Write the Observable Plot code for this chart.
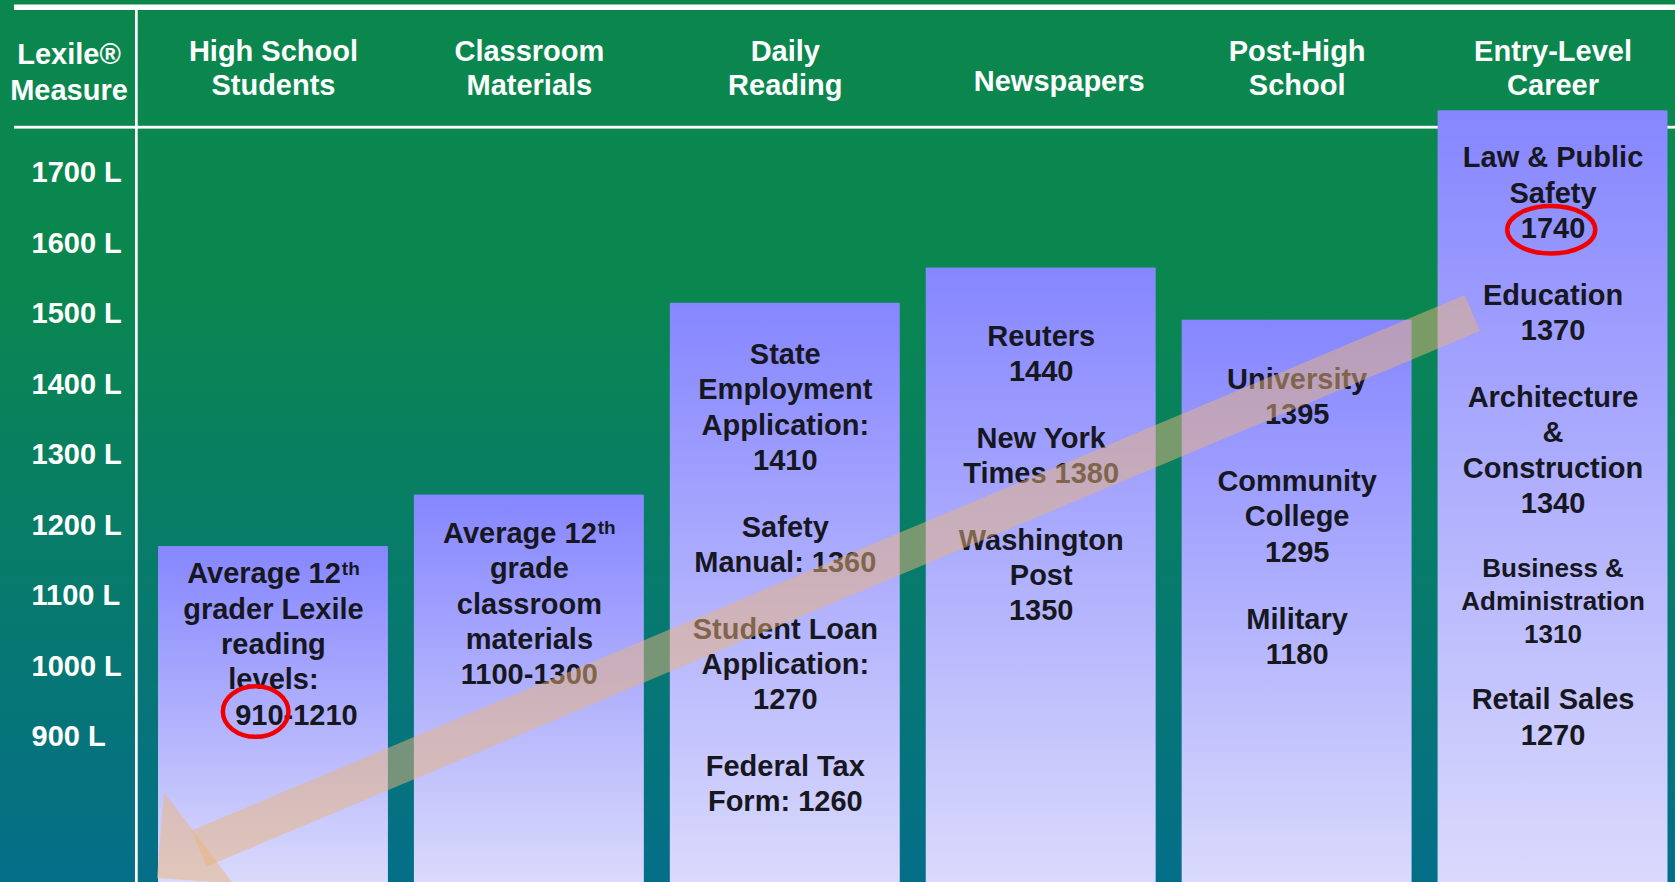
<!DOCTYPE html>
<html>
<head>
<meta charset="utf-8">
<script src="https://cdn.jsdelivr.net/npm/d3@7"></script>
<script src="https://cdn.jsdelivr.net/npm/@observablehq/plot@0.6"></script>
<style>
html, body { margin: 0; padding: 0; background: #0b874e; overflow: hidden; }
#chart svg { display: block; }
</style>
</head>
<body>
<div id="chart"></div>
<script>
// ---------------- data ----------------
const categories = ["High School Students", "Classroom Materials", "Daily Reading", "Newspapers", "Post-High School", "Entry-Level Career"];
const headerLabels = ["High School\nStudents", "Classroom\nMaterials", "Daily\nReading", "Newspapers", "Post-High\nSchool", "Entry-Level\nCareer"];
const boxTops = [1168, 1241, 1513, 1563, 1489, 1786];           // top edge of each box, in Lexile units
const lexileTicks = [900, 1000, 1100, 1200, 1300, 1400, 1500, 1600, 1700];
const axisTitle = "Lexile®\nMeasure";

const highSchoolText = [["Average 12th", "grader Lexile", "reading", "levels:", "910-1210"]];
const classroomText = [["Average 12th", "grade", "classroom", "materials", "1100-1300"]];
const dailyReadingText = [["State", "Employment", "Application:", "1410"], ["Safety", "Manual: 1360"], ["Student Loan", "Application:", "1270"], ["Federal Tax", "Form: 1260"]];
const newspaperText = [["Reuters", "1440"], ["New York", "Times 1380"], ["Washington", "Post", "1350"]];
const postHighText = [["University", "1395"], ["Community", "College", "1295"], ["Military", "1180"]];
const careerText = [["Law & Public", "Safety", "1740"], ["Education", "1370"], ["Architecture", "&", "Construction", "1340"], ["Business &", "Administration", "1310"], ["Retail Sales", "1270"]];
const categoryTexts = [highSchoolText, classroomText, dailyReadingText, newspaperText, postHighText, careerText];

const circledLines = [{category: "High School Students", line: "910-1210"}, {category: "Entry-Level Career", line: "1740"}];

// ---------------- layout / style ----------------
const W = 1675, H = 882;
const FONT = "'Liberation Sans', Arial, Helvetica, sans-serif";
const Y_FLOOR = 691.5, Y_CEIL = 1942.5;
const TEXT_PAD = [26, 37, 49.8, 66.6, 58, 45.8];      // px from box top to first line centre
const LINE_H = 35.3, SMALL_LINE_H = 32.7, PARA_GAP = 31.5;
const BODY_FS = 29, SMALL_FS = 26;
const smallParagraphs = {"Entry-Level Career": [3]};
const lineShift = {"910-1210": 23};
const circleStyle = [{dx: -17.3, dy: -1.7, rx: 32.8, ry: 25.3}, {dx: -1.3, dy: 3, rx: 44, ry: 23.8}];
const ARROW = {
  from: {category: "Entry-Level Career", at: 0.151, lexile: 1498.6},
  to: {category: "High School Students", at: 0.179, lexile: 739},
  width: 39,
  head: [[10.6, -65.6], [50.4, 10.9], [-17.7, 45]],
  fill: "#eab47a", opacity: 0.5
};
const TEXT_COLOR = "#17171f";

const boxes = categories.map((category, i) => ({category, top: boxTops[i]}));

// text lines laid out inside each box
const lines = [];
categories.forEach((category, ci) => {
  let y = TEXT_PAD[ci];
  let prevHalf = null;
  categoryTexts[ci].forEach((para, pi) => {
    const small = (smallParagraphs[category] || []).includes(pi);
    const fs = small ? SMALL_FS : BODY_FS;
    const lh = small ? SMALL_LINE_H : LINE_H;
    para.forEach((t, li) => {
      if (prevHalf !== null) y += prevHalf + lh / 2 + (li === 0 ? PARA_GAP : 0);
      prevHalf = lh / 2;
      lines.push({category, top: boxTops[ci], text: t, fs, offset: y, shift: lineShift[t] || 0});
    });
  });
});

const ctx = document.createElement("canvas").getContext("2d");
function textWidth(s, fs) { ctx.font = `bold ${fs}px ${FONT}`; return ctx.measureText(s).width; }

const textMarks = lines.flatMap(l => {
  const base = {x: "category", y: "top", fill: TEXT_COLOR, fontSize: l.fs, fontWeight: "bold", fontFamily: FONT, lineAnchor: "bottom"};
  const dy = l.offset + 0.374 * l.fs;
  const m = l.text.match(/^(.*\d)(th)$/);
  if (!m) return [Plot.text([l], {...base, text: "text", dx: l.shift, dy})];
  const supFs = 19;
  const wMain = textWidth(m[1], l.fs), wSup = textWidth(m[2], supFs);
  const left = -(wMain + wSup + 1) / 2 + l.shift;
  return [
    Plot.text([l], {...base, text: () => m[1], textAnchor: "start", dx: left, dy}),
    Plot.text([l], {...base, text: () => m[2], fontSize: supFs, textAnchor: "start", dx: left + wMain + 1, dy: dy - 8.5})
  ];
});

function backdrop(index, scales, values, dims) {
  const g = d3.create("svg:g");
  const defs = g.append("defs");
  const bg = defs.append("linearGradient").attr("id", "bgGrad").attr("x1", 0).attr("y1", 0).attr("x2", 0).attr("y2", 1);
  bg.append("stop").attr("offset", 0).attr("stop-color", "#0b874e");
  bg.append("stop").attr("offset", 0.32).attr("stop-color", "#0a874f");
  bg.append("stop").attr("offset", 1).attr("stop-color", "#046e89");
  const bar = defs.append("linearGradient").attr("id", "barGrad").attr("x1", 0).attr("y1", 0).attr("x2", 0).attr("y2", 1);
  bar.append("stop").attr("offset", 0).attr("stop-color", "#8686ff");
  bar.append("stop").attr("offset", 1).attr("stop-color", "#dadafc");
  g.append("rect").attr("width", dims.width).attr("height", dims.height).attr("fill", "url(#bgGrad)");
  g.append("rect").attr("x", 14).attr("y", 4.5).attr("width", dims.width - 14).attr("height", 5.5).attr("fill", "white");
  g.append("rect").attr("x", 14).attr("y", 125.8).attr("width", dims.width - 14).attr("height", 2.8).attr("fill", "white");
  g.append("rect").attr("x", 135).attr("y", 10).attr("width", 2.7).attr("height", dims.height - 10).attr("fill", "white");
  return g.node();
}

function overlay(index, scales, values, dims) {
  const xs = scales.x, ys = scales.y;
  const step = xs(categories[1]) - xs(categories[0]);
  const bw = typeof xs.bandwidth === "function" ? xs.bandwidth() : step * (1 - 0.1016);
  const g = d3.create("svg:g");
  const P0 = [xs(ARROW.from.category) + ARROW.from.at * bw, ys(ARROW.from.lexile)];
  const P1 = [xs(ARROW.to.category) + ARROW.to.at * bw, ys(ARROW.to.lexile)];
  const ddx = P1[0] - P0[0], ddy = P1[1] - P0[1], len = Math.hypot(ddx, ddy);
  const d = [ddx / len, ddy / len], n = [d[1], -d[0]];
  const hw = ARROW.width / 2;
  const shaft = [
    [P0[0] + n[0] * hw, P0[1] + n[1] * hw], [P1[0] + n[0] * hw, P1[1] + n[1] * hw],
    [P1[0] - n[0] * hw, P1[1] - n[1] * hw], [P0[0] - n[0] * hw, P0[1] - n[1] * hw]
  ];
  const head = ARROW.head.map(([u, w]) => [P1[0] + u * d[0] + w * n[0], P1[1] + u * d[1] + w * n[1]]);
  for (const poly of [shaft, head]) {
    g.append("polygon").attr("points", poly.map(p => p.join(",")).join(" "))
      .attr("fill", ARROW.fill).attr("fill-opacity", ARROW.opacity);
  }
  circledLines.forEach((c, i) => {
    const l = lines.find(k => k.category === c.category && k.text === c.line);
    const s = circleStyle[i];
    g.append("ellipse")
      .attr("cx", xs(c.category) + bw / 2 + s.dx)
      .attr("cy", ys(l.top) + l.offset + s.dy)
      .attr("rx", s.rx).attr("ry", s.ry)
      .attr("fill", "none").attr("stroke", "#f00000").attr("stroke-width", 4.5);
  });
  return g.node();
}

const headerCommon = {anchor: "top", tickSize: 0, tickPadding: 0, label: null, color: "white",
  fontSize: 29, fontWeight: "bold", fontFamily: FONT, lineAnchor: "bottom", lineHeight: 1.183,
  tickFormat: d => headerLabels[categories.indexOf(d)]};

const chart = Plot.plot({
  width: W, height: H,
  marginTop: 0, marginBottom: 0, marginLeft: 158, marginRight: 7.5,
  x: {type: "band", domain: categories, paddingInner: 0.1016, paddingOuter: 0, align: 0.5, round: false},
  y: {domain: [Y_FLOOR, Y_CEIL]},
  style: {background: "transparent", fontFamily: FONT, fontWeight: "bold", overflow: "visible"},
  marks: [
    backdrop,
    Plot.barY(boxes, {x: "category", y1: Y_FLOOR, y2: "top", fill: "url(#barGrad)"}),
    Plot.axisX({...headerCommon, ticks: categories.filter(c => c !== "Newspapers"), dy: 94.3}),
    Plot.axisX({...headerCommon, ticks: ["Newspapers"], dx: 18, dy: 90}),
    Plot.axisY({ticks: lexileTicks, tickFormat: d => `${d} L`, tickSize: 0, tickPadding: 0, label: null,
      textAnchor: "start", dx: 31 - 158, dy: 1.6, color: "white", fontSize: 29, fontWeight: "bold", fontFamily: FONT}),
    Plot.text([axisTitle], {frameAnchor: "top-left", dx: 68.5 - 158, dy: 99, textAnchor: "middle", lineAnchor: "bottom",
      lineHeight: 1.231, fill: "white", fontSize: 29, fontWeight: "bold", fontFamily: FONT}),
    ...textMarks,
    overlay
  ]
});
document.getElementById("chart").appendChild(chart);
</script>
</body>
</html>
